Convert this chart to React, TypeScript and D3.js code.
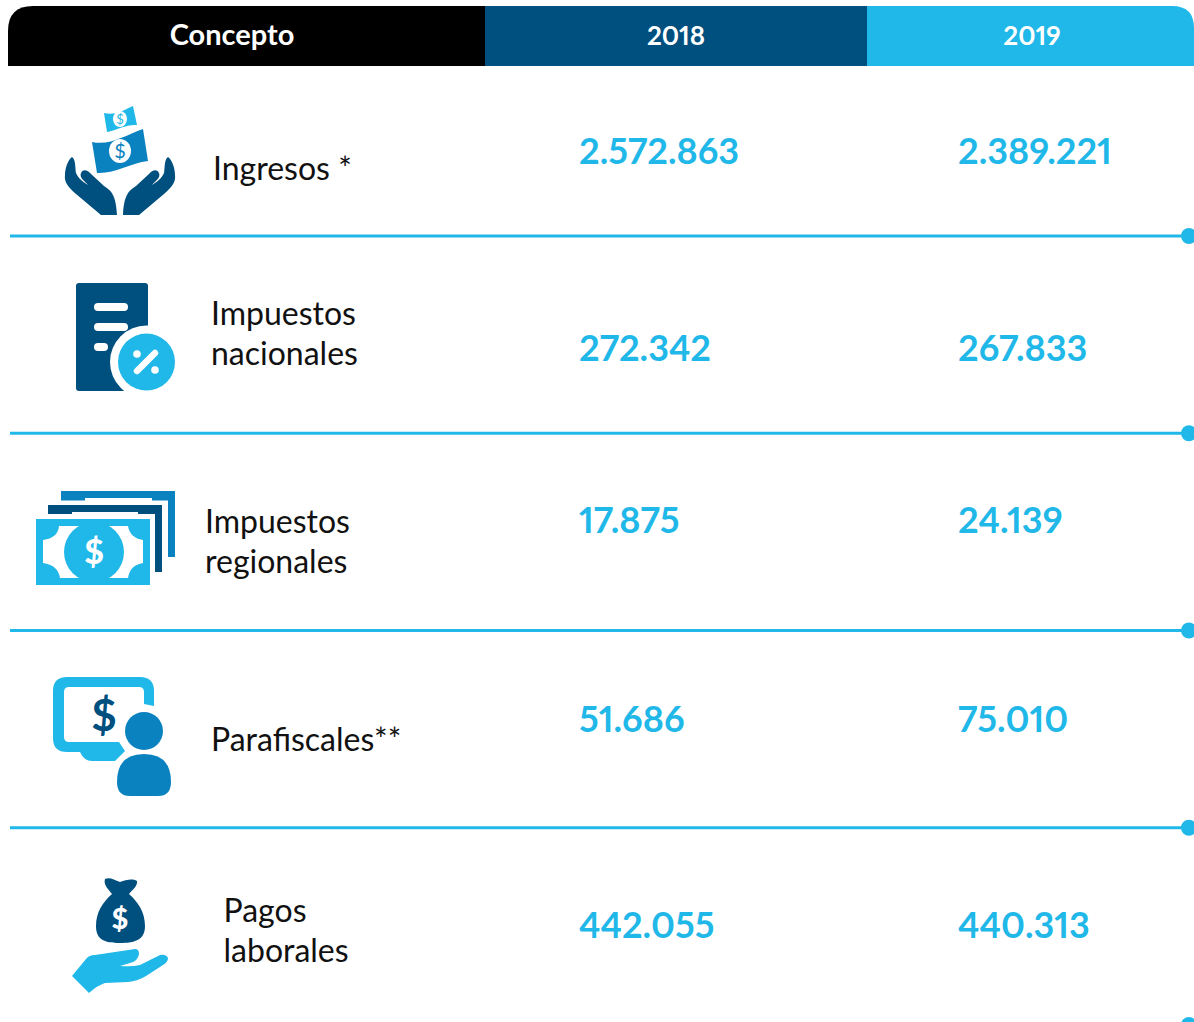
import { useEffect } from 'react';
import * as d3 from 'd3';

const concepts = [['Ingresos *'], ['Impuestos', 'nacionales'], ['Impuestos', 'regionales'], ['Parafiscales**'], ['Pagos', 'laborales']];
const years = ['2018', '2019'];
const values2018 = [2572863, 272342, 17875, 51686, 442055];
const values2019 = [2389221, 267833, 24139, 75010, 440313];
const rowNumbers = [1, 2, 3, 4, 5];

// hand placement, the source table is not evenly laid out
const valueOffset = [-72, -72, -98, -96, -87];
const labelOffset = [-56, -108, -98, -77, -103];
const labelX = [213, 211, 205, 211, 223.5];

const WIDTH = 1194;
const HEIGHT = 1022;
const CYAN = '#1fb8e8';
const NAVY = '#00507f';
const MID = '#0a82bf';
const FONT = 'Lato, sans-serif';
const PNUM = { fontFeatureSettings: '"pnum"', fontVariantNumeric: 'proportional-nums' };

const rowY = d3.scaleLinear().domain([1, 5]).range([236, 1025]);
const columnX = d3.scaleOrdinal<string, number>().domain(years).range([579, 958]);
const headerX = d3.scaleOrdinal<string, number>().domain(years).range([676, 1032]);
const formatValue = d3.formatLocale({ decimal: ',', thousands: '.', grouping: [3], currency: ['$', ''] }).format(',d');

const handPath = 'M72 157C76 160 75 168 76 173C78 178 83 182 88 185C85 181 79 178 81 173C83 169 87 170 90 173L104 186C112 191 116 196 117 215L101 215L76 194C68 187 64 182 65 175C65 168 68 160 72 157Z';

const IngresosIcon = () => (
  <g>
    <path d={handPath} fill={NAVY} />
    <path d={handPath} fill={NAVY} transform="translate(240,0) scale(-1,1)" />
    <path d="M92 142C110 146 126 135 143 129L148 161C130 163 115 174 97 173Z" fill={MID} />
    <ellipse cx="120" cy="151" rx="11" ry="12" fill="#fff" />
    <text x="120" y="158" textAnchor="middle" fontSize="20" fontFamily={FONT} fill={MID}>$</text>
    <path d="M104 113C115 116 124 110 133 106L137 125C127 124 117 130 107 132Z" fill={CYAN} />
    <ellipse cx="120" cy="119" rx="7" ry="8" fill="#fff" />
    <text x="120" y="124" textAnchor="middle" fontSize="13" fontFamily={FONT} fill={CYAN}>$</text>
  </g>
);

const NacionalesIcon = () => (
  <g>
    <rect x="76" y="283" width="72" height="108" rx="3" fill={NAVY} />
    <rect x="94" y="303" width="34" height="8" rx="4" fill="#fff" />
    <rect x="94" y="323" width="34" height="8" rx="4" fill="#fff" />
    <rect x="94" y="343" width="14" height="8" rx="4" fill="#fff" />
    <circle cx="146.500" cy="362" r="36.500" fill="#fff" clipPath="url(#docClip)" />
    <circle cx="146.500" cy="362" r="28.500" fill={CYAN} />
    <line x1="137" y1="371" x2="155" y2="353" stroke="#fff" strokeWidth="6.500" strokeLinecap="round" />
    <circle cx="137" cy="354" r="3.800" fill="#fff" />
    <circle cx="155" cy="370" r="3.800" fill="#fff" />
  </g>
);

const RegionalesIcon = () => (
  <g>
    <rect x="61" y="491" width="114" height="66" fill={MID} />
    <path d="M61 500.500H85V498H152V500.500H168V565H61Z" fill="#fff" />
    <rect x="48" y="505" width="114" height="67" fill={NAVY} />
    <path d="M48 514H72V512H138V514H155V578H48Z" fill="#fff" />
    <rect x="36" y="519" width="114" height="66" fill={CYAN} />
    <path d="M59 526Q58 538 43 540L43 563Q58 565 60 578L128 578Q130 565 143 563L143 540Q130 538 128 526Z" fill="#fff" />
    <circle cx="94" cy="552" r="30" fill={CYAN} />
    <text x="94" y="564" textAnchor="middle" fontSize="34" fontWeight="900" fontFamily={FONT} fill="#fff">$</text>
  </g>
);

const ParafiscalesIcon = () => (
  <g>
    <path d="M67 677H140Q154 677 154 691V706L144 704V692Q144 687 139 687H69Q64 687 64 692V737Q64 742 69 742H119L125 751L115 761H92Q84 761 80 752H67Q53 752 53 738V691Q53 677 67 677Z" fill={CYAN} />
    <text x="104" y="731" textAnchor="middle" fontSize="44" fontWeight="700" fontFamily={FONT} fill={NAVY}>$</text>
    <circle cx="144" cy="731" r="19" fill={MID} />
    <path d="M117 782Q117 754 144 754Q171 754 171 782Q171 796 158 796H130Q117 796 117 782Z" fill={MID} />
  </g>
);

const LaboralesIcon = () => (
  <g>
    <path d="M105 879C110 877 114 880 120 882C126 880 132 878 137 881C138 886 132 890 129 894C138 902 145 912 145 926C145 940 135 943 120 943C105 943 96 940 96 926C96 912 103 902 112 894C109 890 103 885 105 879Z" fill={NAVY} />
    <text x="120" y="929" textAnchor="middle" fontSize="29" fontWeight="900" fontFamily={FONT} fill="#fff">$</text>
    <path d="M72 976L86 959Q89 955 95 955L135 949Q139 949 139 954Q138 961 130 963L120 966Q132 967 140 965L160 955Q166 954 168 958Q168 962 163 965L146 976Q138 981 128 982L105 983Q98 985 89 993Z" fill={CYAN} />
  </g>
);

const rowIcons = [IngresosIcon, NacionalesIcon, RegionalesIcon, ParafiscalesIcon, LaboralesIcon];

export default function App() {
  useEffect(() => {
    document.body.style.margin = '0';
  }, []);

  return (
    <svg width={WIDTH} height={HEIGHT} style={{ display: 'block', position: 'absolute', left: 0, top: 0 }}>
      <rect width={WIDTH} height={HEIGHT} fill="#fff" />
      <defs>
        <clipPath id="docClip">
          <rect x="76" y="283" width="72" height="108" />
        </clipPath>
      </defs>

      {/* header */}
      <path d="M8 66V31Q8 6 33 6H485V66Z" fill="#000" />
      <rect x="485" y="6" width="382" height="60" fill={NAVY} />
      <path d="M867 6H1172Q1194 6 1194 28V66H867Z" fill={CYAN} />
      <text x="232" y="45" textAnchor="middle" fill="#fff" fontFamily={FONT} fontWeight="700" fontSize="29">Concepto</text>
      {years.map(y => (
        <text key={y} x={headerX(y)} y="45" textAnchor="middle" fill="#fff" fontFamily={FONT} fontWeight="700" fontSize="26" style={PNUM}>{y}</text>
      ))}

      {rowNumbers.map((n, i) => {
        const Icon = rowIcons[i];
        const y = rowY(n);
        return (
          <g key={n}>
            <Icon />
            <line x1="10" x2="1188" y1={y} y2={y} stroke={CYAN} strokeWidth="3" />
            <circle cx="1189" cy={y} r="8" fill={CYAN} />
            {concepts[i].map((line, j) => (
              <text key={line} x={labelX[i]} y={y + labelOffset[i] + j * 40} fontFamily={FONT} fontSize="32" fill="#111">{line}</text>
            ))}
            <text x={columnX(years[0])} y={y + valueOffset[i]} fontFamily={FONT} fontWeight="700" fontSize="36" fill={CYAN} style={PNUM}>{formatValue(values2018[i])}</text>
            <text x={columnX(years[1])} y={y + valueOffset[i]} fontFamily={FONT} fontWeight="700" fontSize="36" fill={CYAN} style={PNUM}>{formatValue(values2019[i])}</text>
          </g>
        );
      })}
    </svg>
  );
}
